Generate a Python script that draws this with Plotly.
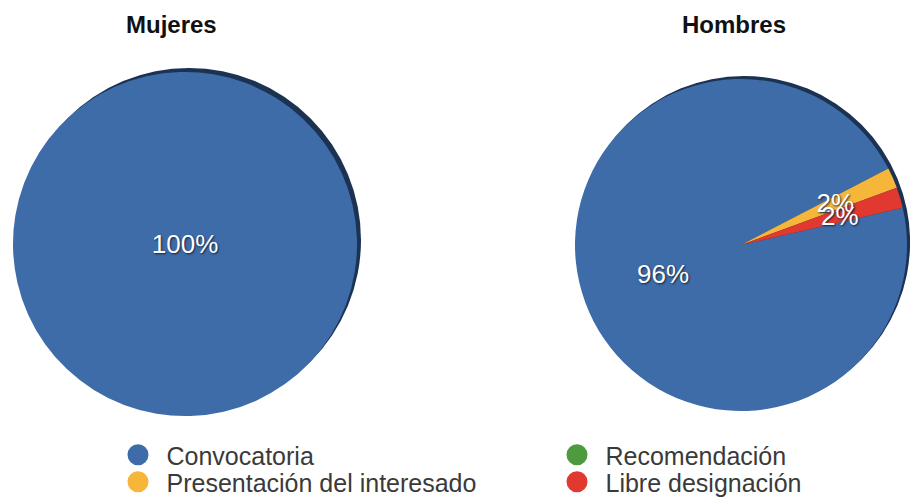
import plotly.graph_objects as go

# Categories and shares (percent) by sex
categories = ["Convocatoria", "Presentación del interesado", "Recomendación", "Libre designación"]
mujeres = [100, 0, 0, 0]
hombres = [96, 2, 0, 2]
titles = ["Mujeres", "Hombres"]

colors = ["#3e6ca9", "#f5b63a", "#4e9b3f", "#e1392f"]
rim_color = "#1b3253"
font_family = "Liberation Sans, Arial, Helvetica, sans-serif"
label_font = dict(family=font_family, size=26, color="white",
                  shadow="1px 1px 2px #14243d")

W, H = 910, 498
SMALL = 10  # slices below this share get their label on an inner ring


def dom(cx, cy, r):
    """Domain for a pie centred at (cx, cy) pixels with radius r."""
    return dict(x=[(cx - r) / W, (cx + r) / W],
                y=[(H - cy - r) / H, (H - cy + r) / H])


pies = [
    dict(vals=mujeres, cx=185, cy=244, r=172, off=4, title=titles[0], tx=171),
    dict(vals=hombres, cx=741, cy=245, r=166, off=3, title=titles[1], tx=734),
]

common = dict(sort=False, direction="clockwise", rotation=77,
              textposition="inside", insidetextorientation="horizontal",
              textfont=label_font, showlegend=False)

fig = go.Figure()

for p in pies:
    # dark rim behind each pie (offset up/right)
    fig.add_trace(go.Pie(
        values=[1], labels=["rim"],
        domain=dom(p["cx"] + p["off"], p["cy"] - p["off"], p["r"]),
        marker=dict(colors=[rim_color], line=dict(width=0)),
        textinfo="none", hoverinfo="skip", showlegend=False, sort=False,
    ))
    big = ["%{percent:.0%}" if v >= SMALL else "" for v in p["vals"]]
    fig.add_trace(go.Pie(
        values=p["vals"], labels=categories, domain=dom(p["cx"], p["cy"], p["r"]),
        marker=dict(colors=colors, line=dict(width=0)),
        texttemplate=big, **common,
    ))
    small = ["%{percent:.0%}" if 0 < v < SMALL else "" for v in p["vals"]]
    if any(small):
        # transparent inner ring carrying the labels of the thin slices
        fig.add_trace(go.Pie(
            values=p["vals"], labels=categories,
            domain=dom(p["cx"], p["cy"], 0.66 * p["r"]),
            marker=dict(colors=["rgba(0,0,0,0)"] * len(p["vals"]),
                        line=dict(width=0)),
            texttemplate=small, hoverinfo="skip", **common,
        ))
    fig.add_annotation(
        text="<b>%s</b>" % p["title"], x=p["tx"] / W, y=(H - 25) / H,
        xref="paper", yref="paper", xanchor="center", yanchor="middle",
        showarrow=False,
        font=dict(family=font_family, size=24, color="#111111"),
    )

# circular legend entries: two columns of two rows
legend_ids = ["legend", "legend2", "legend3", "legend4"]
for name, col, lid in zip(categories, colors, legend_ids):
    fig.add_trace(go.Scatter(
        x=[None], y=[None], mode="markers", name=name,
        marker=dict(symbol="circle", size=16, color=col,
                    line=dict(width=5, color=col)),
        legend=lid,
    ))

legend_style = dict(font=dict(family=font_family, size=25, color="#3a3a3a"),
                    bgcolor="rgba(0,0,0,0)", xanchor="left", yanchor="middle",
                    itemwidth=47, itemclick=False, borderwidth=0)

col_x = [109.5 / W, 548.5 / W]
row_y = [(H - 455) / H, (H - 482) / H]

fig.update_layout(
    width=W, height=H,
    margin=dict(l=0, r=0, t=0, b=0, autoexpand=False),
    paper_bgcolor="white", plot_bgcolor="white",
    xaxis=dict(visible=False), yaxis=dict(visible=False),
    uniformtext=dict(minsize=26, mode="show"),
    legend=dict(x=col_x[0], y=row_y[0], **legend_style),
    legend2=dict(x=col_x[0], y=row_y[1], **legend_style),
    legend3=dict(x=col_x[1], y=row_y[0], **legend_style),
    legend4=dict(x=col_x[1], y=row_y[1], **legend_style),
)

fig.write_html("out.html")
